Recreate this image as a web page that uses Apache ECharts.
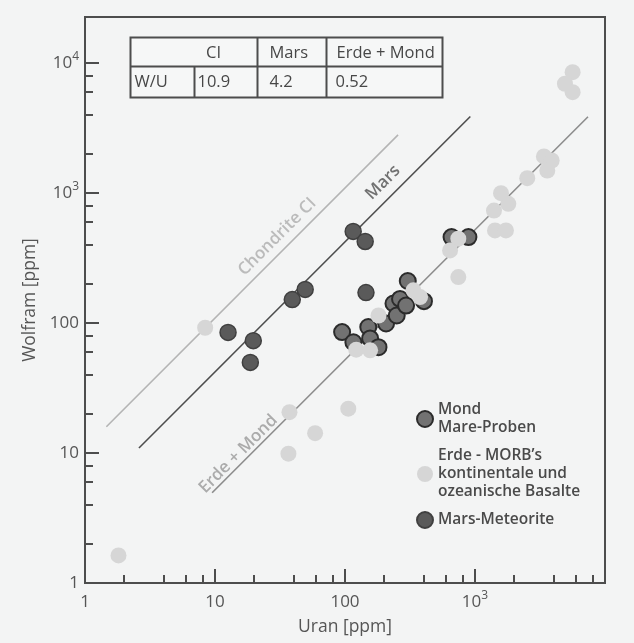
<!DOCTYPE html>
<html><head><meta charset="utf-8">
<script src="https://cdn.jsdelivr.net/npm/echarts@6/dist/echarts.min.js"></script>
<style>html,body{margin:0;padding:0;background:#f3f4f4}#c{width:634px;height:643px}</style>
</head><body><div id="c"></div>
<script>
// ---- data ----
const mondU = [95, 116, 151, 156, 181, 207, 236, 250, 265, 295, 304, 405, 660, 890];
const mondW = [85, 71, 93, 76, 65, 99, 141, 114, 153, 136, 210, 147, 457, 457];

const erdeU = [1.81, 8.4, 37.4, 58.9, 36.7, 106, 122, 156, 181, 336, 378, 744, 744, 643, 1425, 1730, 1400, 1804, 1585, 2523, 3390, 3890, 3597, 5636, 4920, 5636];
const erdeW = [1.63, 91.8, 20.6, 14.2, 9.88, 21.9, 62.2, 61.5, 114, 178, 158, 225, 444, 361, 514, 514, 731, 824, 995, 1297, 1905, 1774, 1486, 8470, 6900, 5946];

const marsU = [12.6, 19.7, 18.7, 39.3, 49.4, 115.6, 143, 145];
const marsW = [84.5, 73, 49.7, 151, 181, 505, 423, 171];

const seriesNames = ['Mond\nMare-Proben', 'Erde - MORB\u2019s\nkontinentale und\nozeanische Basalte', 'Mars-Meteorite'];

// reference lines W = ratio * U
const lineNames = ['Chondrite CI', 'Mars', 'Erde + Mond'];
const lineRatios = [10.9, 4.2, 0.52];
const lineUStart = [1.46, 2.6, 9.5];
const lineUEnd = [256, 920, 7400];
const lineLabelU = [30.1, 196, 15.1];
const lineLabelW = [460, 1200, 9.8];

// table
const tableHeader = ['CI', 'Mars', 'Erde + Mond'];
const tableRowLabel = 'W/U';
const tableValues = ['10.9', '4.2', '0.52'];

// axes ticks
const xLabelValues = [1, 10, 100, 1000];
const xMajorTicks = [10, 100, 1000];
const xMinorTicks = [2, 4, 6, 8, 20, 40, 60, 80, 200, 400, 600, 800, 2000, 4000, 6000, 8000];
const yLabelValues = [1, 10, 100, 1000, 10000];
const yMajorTicks = [10, 100, 1000, 10000];
const yMinorTicks = [2, 4, 6, 8, 20, 40, 60, 80, 200, 400, 600, 800, 2000, 4000, 6000, 8000];

// ---- chart ----
const FONT = 'Open Sans';
const AX = '#4d4d4d';
const TXT = '#555';
const zip = (a, b) => a.map((v, i) => [v, b[i]]);

const fmt = v => {
  if (v >= 1000) return '{b|10}{s|' + Math.round(Math.log10(v)) + '}';
  return '{b|' + v + '}';
};
const rich = {
  b: {fontSize: 17, color: TXT, fontFamily: FONT, lineHeight: 24},
  s: {fontSize: 12, color: TXT, fontFamily: FONT, verticalAlign: 'top'}
};

const gridBox = {left: 85, top: 17, right: 29, bottom: 60};

const chart = echarts.init(document.getElementById('c'), null, {renderer: 'canvas'});

const lineColors = ['#b4b4b4', '#4d4d4d', '#8c8c8c'];
const labelColors = ['#acacac', '#505050', '#999'];

const series = [
  ...lineNames.map((n, i) => ({
    type: 'line', name: 'ref' + i, xAxisIndex: 0, yAxisIndex: 0,
    data: [[lineUStart[i], lineRatios[i] * lineUStart[i]], [lineUEnd[i], lineRatios[i] * lineUEnd[i]]],
    symbol: 'none', silent: true, z: 1,
    lineStyle: {color: lineColors[i], width: 1.6}
  })),
  ...lineNames.map((n, i) => ({
    type: 'scatter', name: 'lab' + i, xAxisIndex: 0, yAxisIndex: 0,
    data: [[lineLabelU[i], lineLabelW[i]]], symbolSize: 1, silent: true, z: 2,
    itemStyle: {color: 'transparent'},
    label: {show: true, position: 'inside', rotate: 45, formatter: n,
      fontFamily: FONT, fontSize: 17, color: labelColors[i], fontWeight: 600}
  })),
  {type: 'scatter', name: seriesNames[0], data: zip(mondU, mondW), symbolSize: 16, z: 3,
    itemStyle: {color: '#727272', borderColor: '#2b2b2b', borderWidth: 2, opacity: 1}},
  {type: 'scatter', name: seriesNames[1], data: zip(erdeU, erdeW), symbolSize: 16, z: 4,
    itemStyle: {color: '#d6d6d6', borderColor: '#dcdcdc', borderWidth: 0, opacity: 1}},
  {type: 'scatter', name: seriesNames[2], data: zip(marsU, marsW), symbolSize: 16, z: 5,
    itemStyle: {color: '#5a5a5a', borderColor: '#404040', borderWidth: 1.5, opacity: 1}}
];

// table graphic
const tx0 = 128, ty0 = 35, tw = 312, th = 60, tmid = 29;
const tStyle = {fontFamily: FONT, fontSize: 16.5, fill: '#474747'};
const tbl = {
  type: 'group', left: tx0, top: ty0, children: [
    {type: 'rect', shape: {x: 0, y: 0, width: tw, height: th}, style: {fill: '#f6f7f7', stroke: AX, lineWidth: 2}},
    {type: 'line', shape: {x1: 0, y1: tmid, x2: tw, y2: tmid}, style: {stroke: AX, lineWidth: 2}},
    {type: 'line', shape: {x1: 127, y1: 0, x2: 127, y2: th}, style: {stroke: AX, lineWidth: 2}},
    {type: 'line', shape: {x1: 196, y1: 0, x2: 196, y2: th}, style: {stroke: AX, lineWidth: 2}},
    {type: 'line', shape: {x1: 64, y1: tmid, x2: 64, y2: th}, style: {stroke: AX, lineWidth: 2}},
    {type: 'text', x: 83, y: 16, style: Object.assign({text: tableHeader[0], align: 'center', verticalAlign: 'middle'}, tStyle)},
    {type: 'text', x: 139, y: 16, style: Object.assign({text: tableHeader[1], align: 'left', verticalAlign: 'middle'}, tStyle)},
    {type: 'text', x: 206, y: 16, style: Object.assign({text: tableHeader[2], align: 'left', verticalAlign: 'middle'}, tStyle)},
    {type: 'text', x: 4, y: 45, style: Object.assign({text: tableRowLabel, align: 'left', verticalAlign: 'middle'}, tStyle)},
    {type: 'text', x: 67, y: 45, style: Object.assign({text: tableValues[0], align: 'left', verticalAlign: 'middle'}, tStyle)},
    {type: 'text', x: 139, y: 45, style: Object.assign({text: tableValues[1], align: 'left', verticalAlign: 'middle'}, tStyle)},
    {type: 'text', x: 205, y: 45, style: Object.assign({text: tableValues[2], align: 'left', verticalAlign: 'middle'}, tStyle)}
  ]
};

chart.setOption({
  backgroundColor: '#f3f4f4',
  animation: false,
  textStyle: {fontFamily: FONT},
  grid: [
    Object.assign({show: true, borderColor: AX, borderWidth: 2, backgroundColor: 'transparent'}, gridBox),
    Object.assign({show: false}, gridBox)
  ],
  xAxis: [
    {type: 'log', gridIndex: 0, min: 1, max: 10000, logBase: 10,
      name: 'Uran [ppm]', nameLocation: 'middle', nameGap: 35,
      nameTextStyle: {fontFamily: FONT, fontSize: 17.5, color: TXT},
      axisLine: {lineStyle: {color: AX, width: 2}},
      axisTick: {inside: true, length: 14, customValues: xMajorTicks, lineStyle: {color: AX, width: 2}},
      axisLabel: {customValues: xLabelValues, formatter: fmt, rich: rich, margin: 7, color: TXT},
      splitLine: {show: false}, minorTick: {show: false}},
    {type: 'log', gridIndex: 1, min: 1, max: 10000, logBase: 10,
      axisLine: {show: false},
      axisTick: {inside: true, length: 8, customValues: xMinorTicks, lineStyle: {color: AX, width: 2}},
      axisLabel: {show: false}, splitLine: {show: false}}
  ],
  yAxis: [
    {type: 'log', gridIndex: 0, min: 1, max: 22500, logBase: 10,
      name: 'Wolfram [ppm]', nameLocation: 'middle', nameGap: 42, nameRotate: 90,
      nameTextStyle: {fontFamily: FONT, fontSize: 17.5, color: TXT},
      axisLine: {lineStyle: {color: AX, width: 2}},
      axisTick: {inside: true, length: 14, customValues: yMajorTicks, lineStyle: {color: AX, width: 2}},
      axisLabel: {customValues: yLabelValues, formatter: fmt, rich: rich, margin: 6, color: TXT},
      splitLine: {show: false}},
    {type: 'log', gridIndex: 1, min: 1, max: 22500, logBase: 10,
      axisLine: {show: false},
      axisTick: {inside: true, length: 8, customValues: yMinorTicks, lineStyle: {color: AX, width: 2}},
      axisLabel: {show: false}, splitLine: {show: false}}
  ],
  legend: {
    orient: 'vertical', left: 416, top: 401, padding: 0, itemWidth: 16, itemHeight: 16, itemGap: 10,
    icon: 'circle', data: seriesNames,
    textStyle: {fontFamily: FONT, fontSize: 15.5, fontWeight: 600, color: '#4a4a4a', lineHeight: 18}
  },
  graphic: [tbl],
  series: series
});
</script>
</body></html>
